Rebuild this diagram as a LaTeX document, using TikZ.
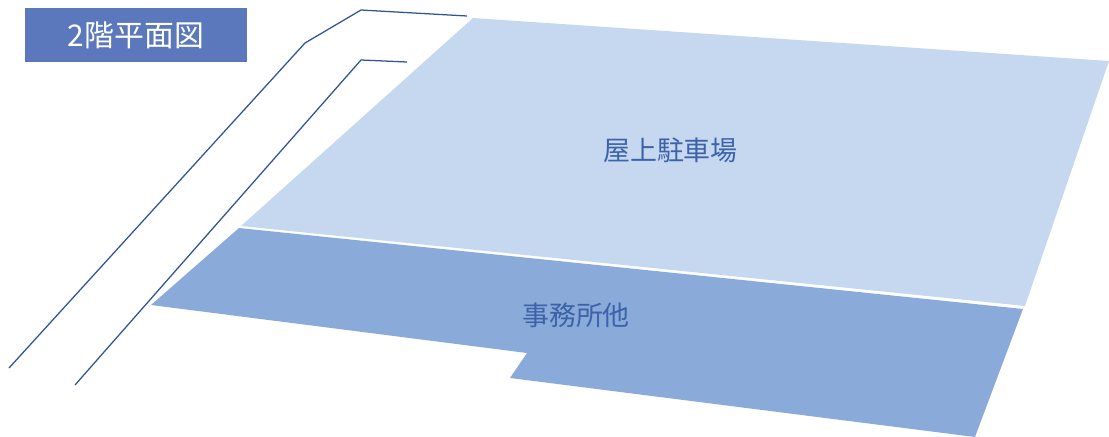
\documentclass[tikz,border=0pt]{standalone}
\usepackage{fontspec}
\setmainfont{Noto Sans CJK JP}
\definecolor{titlebg}{HTML}{5B78BC}
\definecolor{roofc}{HTML}{C6D8F0}
\definecolor{officec}{HTML}{8AAADA}
\definecolor{linec}{HTML}{2F5597}
\definecolor{labelc}{HTML}{3C62A8}
\tikzset{
  road/.style={draw=linec,line width=0.95pt,line join=round},
  arealabel/.style={text=labelc,font=\fontsize{20.2}{22}\selectfont,inner sep=0pt},
}
\begin{document}
\begin{tikzpicture}[x=0.75pt,y=-0.75pt]
\useasboundingbox (0,0) rectangle (1109,436);
\fill[roofc] (473,18) -- (1109,61) -- (1025,306) -- (241,226) -- cycle;
\fill[officec] (239,228) -- (1023,309) -- (975,437) -- (510,378) -- (527,353) -- (151,305) -- cycle;
\draw[road] (9,368) -- (305,43) -- (361,10) -- (467,16);
\draw[road] (75,385) -- (361,60) -- (407,62);
\node[fill=titlebg,minimum width=166.5pt,minimum height=40.5pt,inner sep=0pt,text=white,font=\fontsize{22.4}{24}\selectfont] (title) at (136,35) {2階平面図};
\node[arealabel] (roof) at (670.5,150) {屋上駐車場};
\node[arealabel] (office) at (576,315) {事務所他};
\end{tikzpicture}
\end{document}
